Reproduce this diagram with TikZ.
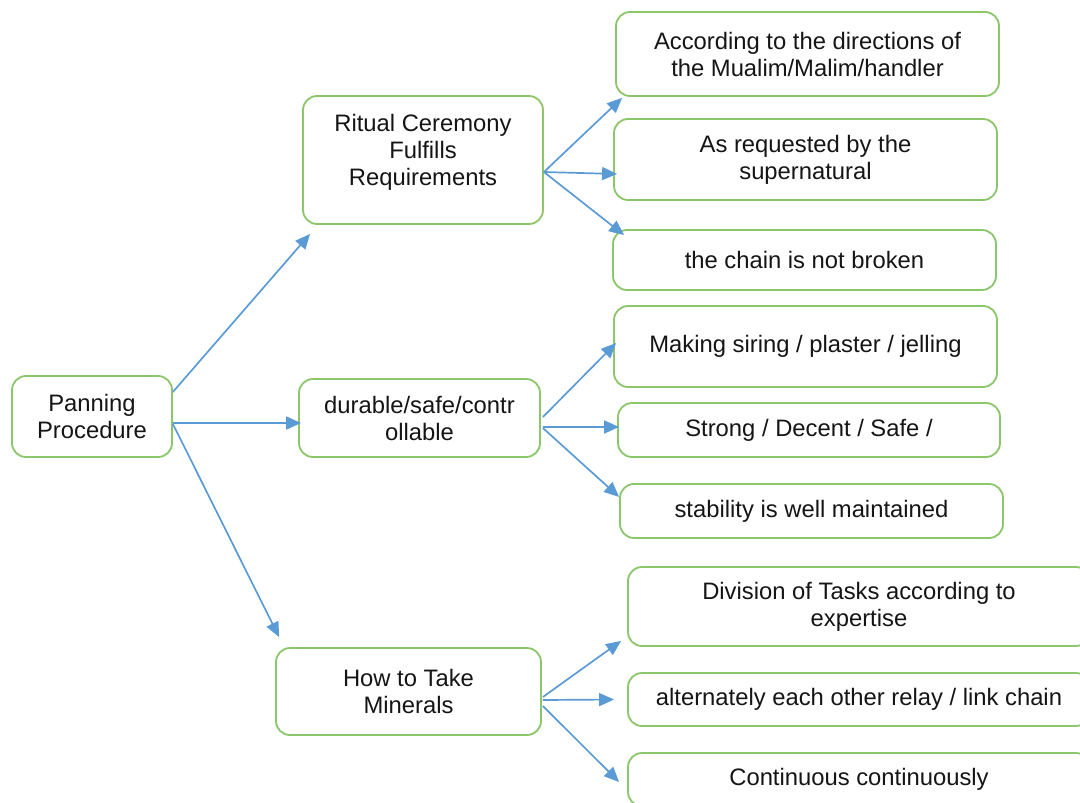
\documentclass[tikz,border=0pt]{standalone}
\usepackage{fontspec}
\setmainfont{Liberation Sans}
\usetikzlibrary{arrows.meta}
\definecolor{boxgreen}{HTML}{8CC66A}
\definecolor{arrowblue}{HTML}{5B9BD5}
\definecolor{txt}{HTML}{151515}
\begin{document}
\begin{tikzpicture}[x=1pt,y=-1pt,
  box/.style={draw=boxgreen, line width=1.8pt, rounded corners=14pt, fill=white,
    align=center, text=txt, font=\fontsize{23.8}{27}\selectfont, inner sep=0pt},
  link/.style={draw=arrowblue, line width=1.7pt, -{Triangle[length=15pt,width=13pt]}}]
\useasboundingbox (0,0) rectangle (1080,803);
\clip (0,0) rectangle (1080,803);

% root
\node[box, minimum width=160pt, minimum height=81pt] (pan) at (92,416.5) {Panning\\Procedure};

% second level
\node[box, minimum width=240pt, minimum height=128pt] (rit) at (423,160) {Ritual Ceremony\\Fulfills\\Requirements\\[-14pt]\strut};
\node[box, minimum width=241pt, minimum height=78pt] (dur) at (419.5,418) {durable/safe/contr\\ollable};
\node[box, minimum width=265pt, minimum height=87pt] (how) at (408.5,691.5) {How to Take\\Minerals};

% third level
\node[box, minimum width=383pt, minimum height=84pt] (acc) at (807.5,54) {According to the directions of\\the Mualim/Malim/handler};
\node[box, minimum width=383pt, minimum height=81pt] (req) at (805.5,159.5) {As requested by the\\supernatural};
\node[box, minimum width=383pt, minimum height=60pt] (chn) at (804.5,260) {the chain is not broken};

\node[box, minimum width=383pt, minimum height=81pt] (mak) at (805.5,346.5) {Making siring / plaster / jelling};
\node[box, minimum width=382pt, minimum height=54pt] (str) at (809,430) {Strong / Decent / Safe /};
\node[box, minimum width=383pt, minimum height=54pt] (stb) at (811.5,511) {stability is well maintained};

\node[box, minimum width=462pt, minimum height=79pt] (div) at (859,606.5) {Division of Tasks according to\\expertise};
\node[box, minimum width=462pt, minimum height=53pt] (alt) at (859,699.5) {alternately each other relay / link chain};
\node[box, minimum width=462pt, minimum height=53pt] (con) at (859,779.5) {Continuous continuously};

% connectors from the root
\draw[link] ([yshift=24.5pt]pan.east) -- ([xshift=8pt,yshift=-9pt]rit.south west);
\draw[link] ([yshift=-6.5pt]pan.east) -- ([xshift=3pt,yshift=-5pt]dur.west);
\draw[link] ([yshift=-7.5pt]pan.east) -- ([xshift=4pt,yshift=10pt]how.north west);

% connectors from the ritual box
\draw[link] ([yshift=-12pt]rit.east) -- ([xshift=7pt,yshift=-1pt]acc.south west);
\draw[link] ([yshift=-12pt]rit.east) -- ([xshift=4pt,yshift=-14.5pt]req.west);
\draw[link] ([yshift=-12pt]rit.east) -- ([xshift=12pt,yshift=-6pt]chn.north west);

% connectors from the durability box
\draw[link] ([xshift=2pt,yshift=1pt]dur.east) -- ([xshift=3pt,yshift=3.5pt]mak.west);
\draw[link] ([xshift=2pt,yshift=-9pt]dur.east) -- ([xshift=2pt,yshift=3pt]str.west);
\draw[link] ([xshift=2pt,yshift=-10pt]dur.east) -- ([yshift=14pt]stb.west);

% connectors from the minerals box
\draw[link] ([xshift=1pt,yshift=-5.5pt]how.east) -- ([xshift=-6pt,yshift=6pt]div.south west);
\draw[link] ([xshift=1pt,yshift=-8.5pt]how.east) -- ([xshift=-13pt]alt.west);
\draw[link] ([xshift=1pt,yshift=-14.5pt]how.east) -- ([xshift=-8pt,yshift=-2.5pt]con.west);
\end{tikzpicture}
\end{document}
